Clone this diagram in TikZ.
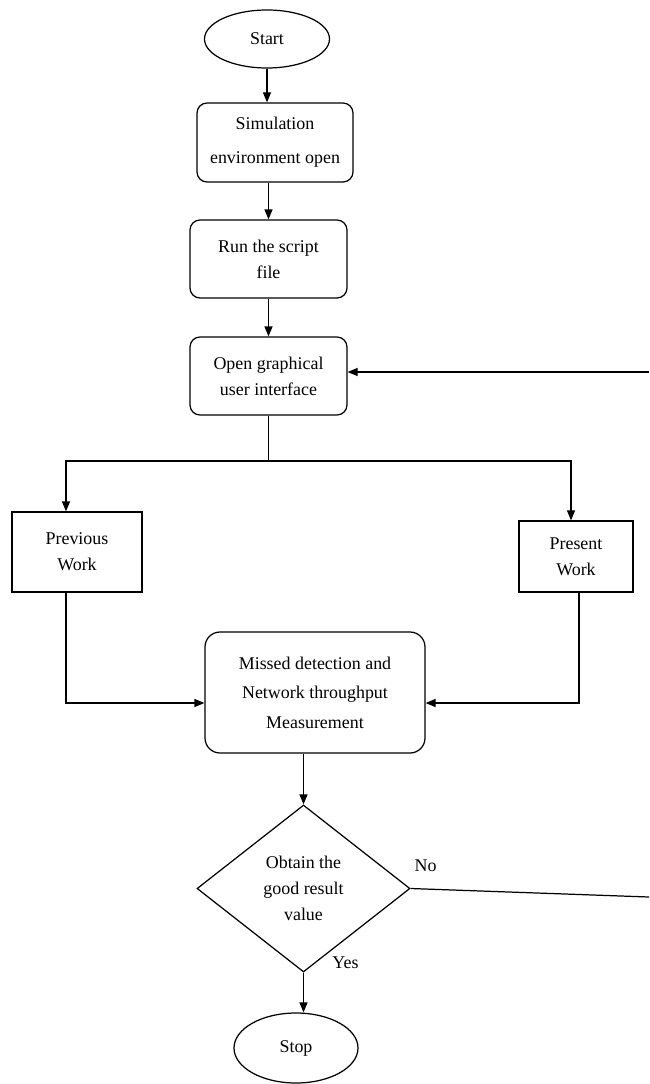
\documentclass[tikz,border=0pt]{standalone}
\usepackage{fontspec}
\setmainfont{Liberation Serif}
\usepackage{tikz}
\usetikzlibrary{positioning,shapes.geometric,arrows.meta}

\begin{document}
\begin{tikzpicture}[
    % GLOBAL CFG
    font=\fontsize{10.2pt}{14.8pt}\selectfont,
    >={Triangle[length=2mm,width=1.6mm]},
    line width=0.7pt,
    % Styles
    terminal/.style={% Start and Stop
        ellipse,
        draw,
        inner sep=1pt,
        },
    process/.style={% rounded boxes
        rectangle,
        rounded corners=2mm,
        draw,
        align=center,
        minimum width=3.14cm,
        minimum height=1.56cm,
        },
    work/.style={% plain boxes for the two works
        rectangle,
        draw,
        align=center,
        },
    decision/.style={% the test
        diamond,
        draw,
        align=center,
        inner sep=0pt,
        },
    ]

    % Fix the frame
    \useasboundingbox (0,0) rectangle (12.98,-21.68);

    % Draw the steps
    \node [terminal, minimum width=2.5cm, minimum height=1.16cm] (start) at (5.34,-0.78) {Start};
    \node [process, minimum width=3.12cm, minimum height=1.58cm] (sim) at (5.50,-2.85) {Simulation\\[4.5pt]environment open};
    \node [process] (run) at (5.37,-5.18) {Run the script\\file};
    \node [process] (gui) at (5.37,-7.52) {Open graphical\\user interface};

    % The two works
    \node [work, minimum width=2.6cm, minimum height=1.6cm] (prev) at (1.54,-11.04) {Previous\\Work};
    \node [work, minimum width=2.28cm, minimum height=1.42cm] (pres) at (11.52,-11.13) {Present\\Work};

    \node [process, rounded corners=3mm, minimum width=4.4cm, minimum height=2.42cm] (meas) at (6.30,-13.85) {Missed detection and\\[2pt]Network throughput\\[2pt]Measurement};
    \node [decision, minimum width=4.26cm, minimum height=3.34cm] (dec) at (6.07,-17.77) {Obtain the\\good result\\value};
    \node [terminal, minimum width=2.48cm, minimum height=1.4cm] (stop) at (5.92,-20.96) {Stop};

    % Labels of the test
    \node (no) at ([xshift=0.3cm,yshift=0.45cm]dec.east) {No};
    \node (yes) at ([xshift=0.84cm,yshift=0.2cm]dec.south) {Yes};

    % Free ends
    \coordinate (branch) at (5.37,-9.22);
    \coordinate (fb) at (12.98,-7.44);
    \coordinate (noend) at (12.98,-17.94);

    % Drawing arrows
    \draw [->] (start) -- (start |- sim.north);
    \draw [->] (sim.south -| run) -- (run);
    \draw [->] (run) -- (gui);
    \draw (gui) -- (branch);
    \draw [->] (branch) -| ([xshift=-2.2mm]prev.north);
    \draw [->] (branch) -| ([xshift=-1mm]pres.north);
    \draw [->] ([xshift=-2.2mm]prev.south) |- ([yshift=-2.1mm]meas.west);
    \draw [->] ([xshift=0.6mm]pres.south) |- ([yshift=-2.1mm]meas.east);
    \draw [->] (meas.south -| dec) -- (dec);
    \draw [->] (dec.south) -- (dec.south |- stop.north);

    % Loop back
    \draw (dec.east) -- (noend);
    \draw [->] (fb) -- (fb -| gui.east);

\end{tikzpicture}
\end{document}
